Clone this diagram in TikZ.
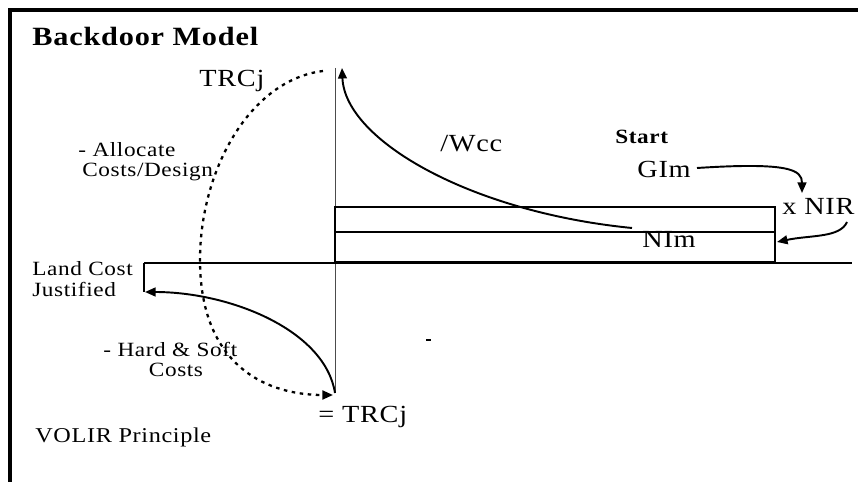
\documentclass[tikz,border=0pt]{standalone}
\usepackage{fontspec}
\setmainfont{Liberation Serif}[FakeStretch=1.15, LetterSpace=3]
\usetikzlibrary{arrows.meta}

\tikzset{
  lbl/.style={inner sep=0pt, anchor=base west},
  big/.style={font=\fontsize{14}{16}\selectfont},
  mid/.style={font=\fontsize{12}{14}\selectfont},
  small/.style={font=\fontsize{11.5}{13}\selectfont},
  tip/.style={-{Triangle[length=6pt,width=5pt]}},
  curve/.style={line width=1.1pt},
  dots/.style={line width=1.3pt, dash pattern=on 2pt off 2.6pt},
}

\begin{document}
\begin{tikzpicture}[x=0.02cm,y=-0.02cm]
\useasboundingbox (0,0) rectangle (858,482);
\draw[line width=1.8pt] (10,482) -- (10,10) -- (858,10);

% axes and the income bars
\coordinate (axtop) at (335,68);
\coordinate (axbot) at (335,393);
\coordinate (axleft) at (144,263);
\coordinate (axright) at (852,263);
\draw[line width=0.5pt, black!70] (axtop) -- (axbot);
\draw[line width=0.6pt] (axleft) -- (axright);
\draw[line width=1pt] (axleft) -- (144,292);
\draw[line width=0.8pt] (335,207) rectangle (775,262);
\draw[line width=0.8pt] (335,232) -- (775,232);
\draw[line width=1.4pt] (335,262) -- (775,262);

% labels
\node[lbl, font=\fontsize{15}{17}\selectfont\bfseries] (title) at (32,46) {Backdoor Model};
\node[lbl, big] (trctop) at (199,87) {TRCj};
\node[lbl, small] (allocate) at (78,157) {- Allocate};
\node[lbl, small] (design) at (82,177) {Costs/Design};
\node[lbl, small] (land) at (32,276) {Land Cost};
\node[lbl, small] (justified) at (32,297) {Justified};
\node[lbl, small] (hard) at (103,357) {- Hard \& Soft};
\node[inner sep=0pt, anchor=base, small] (costs) at (176,377) {Costs};
\node[lbl, big] (trcbot) at (318,422) {= TRCj};
\node[lbl, mid] (volir) at (35,442) {VOLIR Principle};
\node[lbl, big] (wcc) at (440,152) {/Wcc};
\node[lbl, font=\fontsize{11.5}{13}\selectfont\bfseries] (start) at (615,144) {Start};
\node[lbl, big] (gim) at (637,178) {GIm};
\node[lbl, big] (nim) at (642,248) {NIm};
\node[lbl, big] (nir) at (782,215) {x NIR};

% connectors
\coordinate (wccend) at (632,228);
\coordinate (wcctip) at (342,68);
\coordinate (dotstart) at (323,71);
\coordinate (dottip) at (333,395);
\coordinate (landtip) at (145,292);
\coordinate (gimstart) at (697,168);
\coordinate (gimtip) at (802,193);
\coordinate (nirstart) at (847,222);
\coordinate (nirtip) at (777,242);
\draw[curve, tip] (wccend) .. controls (470,212) and (345,140) .. (wcctip);
\draw[dots, tip] (dotstart) .. controls (250,80) and (200,170) .. (200,260)
  .. controls (200,360) and (260,395) .. (dottip);
\draw[curve, tip] (axbot) .. controls (325,330) and (230,292) .. (landtip);
\draw[curve, tip] (gimstart) .. controls (790,162) and (802,170) .. (gimtip);
\draw[curve, tip] (nirstart) .. controls (840,238) and (810,235) .. (nirtip);
\draw[line width=1pt] (426,340) -- (431,340);
\end{tikzpicture}
\end{document}
